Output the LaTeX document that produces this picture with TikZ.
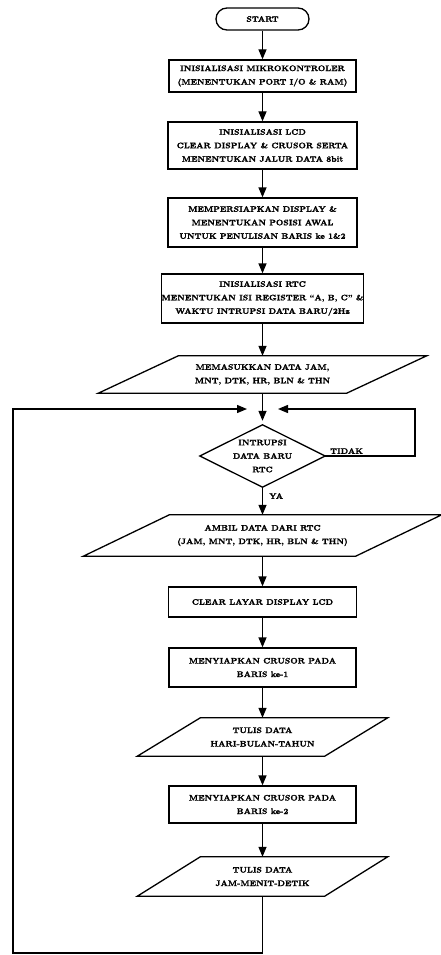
\documentclass[tikz,border=0pt]{standalone}
\usepackage{fontspec}
\setmainfont{Latin Modern Roman}[BoldFeatures={FakeBold=1.6}]
\usetikzlibrary{arrows.meta,calc}
\begin{document}
\begin{tikzpicture}[x=1pt,y=-1pt,
  every node/.style={font=\fontsize{8}{13.5}\selectfont\bfseries, align=center, inner sep=0pt},
  procbox/.style 2 args={draw, line width=1.3pt, minimum width=#1, minimum height=#2},
  iobox/.style 2 args={minimum width=#1, minimum height=#2},
  termbox/.style={draw, line width=1.3pt, rounded corners=11pt, minimum width=93pt, minimum height=22pt},
  edge/.style={line width=1.3pt},
  flow/.style={line width=1.3pt, -{Triangle[length=10pt,width=8pt]}},
  lbl/.style={font=\fontsize{8}{9}\selectfont\bfseries}
]
\useasboundingbox (0,0) rectangle (440,955);

\node[termbox] (start) at (262.5,19) {START};
\node[procbox={187pt}{32pt}] (b1) at (262.5,76) {INISIALISASI MIKROKONTROLER\\(MENENTUKAN PORT I/O \& RAM)};
\node[procbox={189pt}{47pt}] (b2) at (262.5,145.5) {INISIALISASI LCD\\CLEAR DISPLAY \& CRUSOR SERTA\\MENENTUKAN JALUR DATA 8bit};
\node[procbox={189pt}{49pt}] (b3) at (262.5,222.5) {MEMPERSIAPKAN DISPLAY \&\\MENENTUKAN POSISI AWAL\\UNTUK PENULISAN BARIS ke 1\&2};
\node[procbox={202pt}{49pt}] (b4) at (262.5,298.5) {INISIALISASI RTC\\MENENTUKAN ISI REGISTER ``A, B, C'' \&\\WAKTU INTRUPSI DATA BARU/2Hz};

\node[iobox={328pt}{37pt}] (p1) at (262.5,374.5) {MEMASUKKAN DATA JAM,\\MNT, DTK, HR, BLN \& THN};
\draw[edge] ($(p1.north west)+(80,0)$) -- (p1.north east) -- ($(p1.south east)-(80,0)$) -- (p1.south west) -- cycle;

\node[iobox={125pt}{62pt}] (d) at (262.5,456) {INTRUPSI\\DATA BARU\\RTC};
\draw[edge] (d.north) -- (d.east) -- (d.south) -- (d.west) -- cycle;

\node[iobox={358pt}{41pt}] (p2) at (262.5,535.5) {AMBIL DATA DARI RTC\\(JAM, MNT, DTK, HR, BLN \& THN)};
\draw[edge] ($(p2.north west)+(86,0)$) -- (p2.north east) -- ($(p2.south east)-(86,0)$) -- (p2.south west) -- cycle;

\node[procbox={188pt}{30pt}] (b5) at (262.5,602) {CLEAR LAYAR DISPLAY LCD};
\node[procbox={187pt}{39pt}] (b6) at (262.5,667.5) {MENYIAPKAN CRUSOR PADA\\BARIS ke-1};

\node[iobox={250pt}{38pt}] (p3) at (262.5,737) {TULIS DATA\\HARI-BULAN-TAHUN};
\draw[edge] ($(p3.north west)+(63,0)$) -- (p3.north east) -- ($(p3.south east)-(63,0)$) -- (p3.south west) -- cycle;

\node[procbox={187pt}{37pt}] (b7) at (262.5,804.5) {MENYIAPKAN CRUSOR PADA\\BARIS ke-2};

\node[iobox={250pt}{39pt}] (p4) at (262.5,876.5) {TULIS DATA\\JAM-MENIT-DETIK};
\draw[edge] ($(p4.north west)+(63,0)$) -- (p4.north east) -- ($(p4.south east)-(63,0)$) -- (p4.south west) -- cycle;

\coordinate (c1) at (262.5,953);
\coordinate (c2) at (13,953);
\coordinate (c3) at (13,409);
\coordinate (jl) at (247,409);
\coordinate (r1) at (415,456);
\coordinate (r2) at (415,409);
\coordinate (jr) at (278,409);

\draw[flow] (start) -- (b1);
\draw[flow] (b1) -- (b2);
\draw[flow] (b2) -- (b3);
\draw[flow] (b3) -- (b4);
\draw[flow] (b4) -- (p1);
\draw[flow, shorten >=4pt] (p1.south) -- (d.north);
\draw[flow] (d.south) -- (p2.north);
\draw[flow] (p2.south) -- (b5.north);
\draw[flow] (b5) -- (b6);
\draw[flow] (b6.south) -- (p3.north);
\draw[flow] (p3.south) -- (b7.north);
\draw[flow] (b7.south) -- (p4.north);
\draw[flow] (p4.south) -- (c1) -- (c2) -- (c3) -- (jl);
\draw[flow] (d.east) -- (r1) -- (r2) -- (jr);

\node[lbl, anchor=south west] (tidak) at (330,454) {TIDAK};
\node[lbl, anchor=west] (ya) at (269,496) {YA};
\end{tikzpicture}
\end{document}
